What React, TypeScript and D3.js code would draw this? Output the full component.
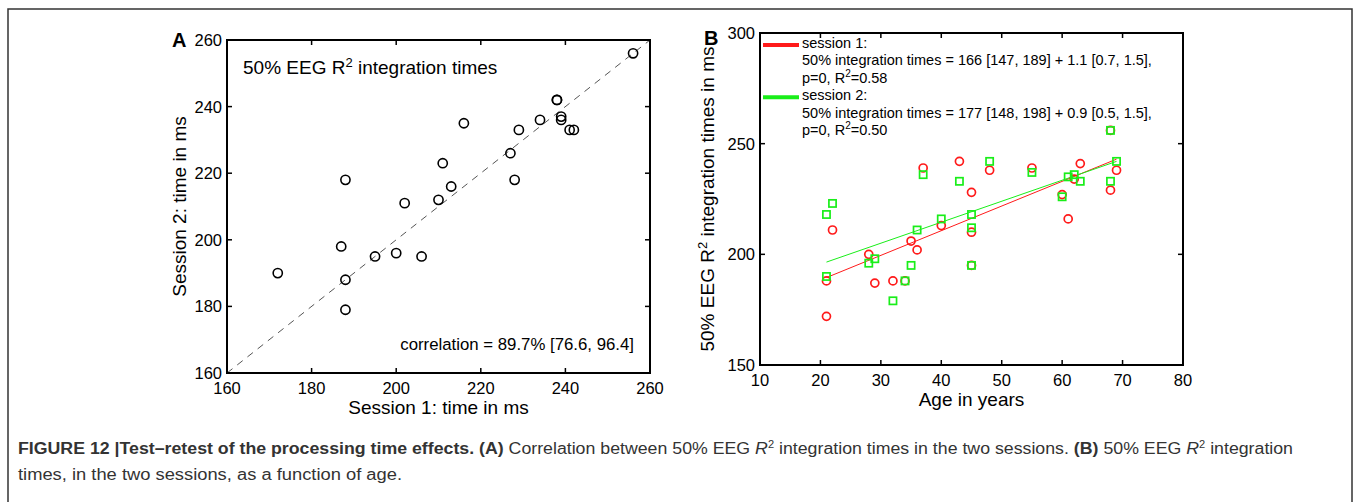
import React from 'react';
import * as d3 from 'd3';

// ---- data (per subject) ----
const ages = [21, 21, 22, 28, 29, 32, 34, 35, 36, 37, 40, 43, 45, 45, 45, 48, 55, 60, 61, 62, 63, 68, 68, 69];
const session1 = [172, 188, 211, 200, 187, 188, 188, 206, 202, 239, 213, 242, 195, 210, 228, 238, 239, 227, 216, 234, 241, 229, 256, 238];
const session2 = [190, 218, 223, 196, 198, 179, 188, 195, 211, 236, 216, 233, 195, 212, 218, 242, 237, 226, 235, 236, 233, 233, 256, 242];

// regression fits (end points)
const fitAges = [21, 69];
const fit1 = [189.5, 243];
const fit2 = [196.5, 242];

const ticksA = [160, 180, 200, 220, 240, 260];
const ticksBx = [10, 20, 30, 40, 50, 60, 70, 80];
const ticksBy = [150, 200, 250, 300];

const legend1 = ['session 1:', '50% integration times = 166 [147, 189] + 1.1 [0.7, 1.5],', 'p=0, R', '=0.58'];
const legend2 = ['session 2:', '50% integration times = 177 [148, 198] + 0.9 [0.5, 1.5],', 'p=0, R', '=0.50'];

const FONT = 'Liberation Sans, Arial, Helvetica, sans-serif';
const RED = '#ff1a1a';
const GREEN = '#19ee19';

function Frame({ x, y, xt, yt }: any) {
  const [x0, x1] = x.range();
  const [y0, y1] = y.range();
  const T = 5;
  return (
    <g>
      {xt.map((t: number) => (
        <g key={'x' + t}>
          <line x1={x(t)} x2={x(t)} y1={y0} y2={y0 - T} stroke="#000" strokeWidth={1.5} />
          <line x1={x(t)} x2={x(t)} y1={y1} y2={y1 + T} stroke="#000" strokeWidth={1.5} />
          <text x={x(t)} y={y0 + 21} textAnchor="middle" fontSize={16.5} fontFamily={FONT}>{t}</text>
        </g>
      ))}
      {yt.map((t: number) => (
        <g key={'y' + t}>
          <line x1={x0} x2={x0 + T} y1={y(t)} y2={y(t)} stroke="#000" strokeWidth={1.5} />
          <line x1={x1} x2={x1 - T} y1={y(t)} y2={y(t)} stroke="#000" strokeWidth={1.5} />
          <text x={x0 - 5} y={y(t) + 6} textAnchor="end" fontSize={16.5} fontFamily={FONT}>{t}</text>
        </g>
      ))}
      <rect x={x0} y={y1} width={x1 - x0} height={y0 - y1} fill="none" stroke="#000" strokeWidth={2} />
    </g>
  );
}

export default function App() {
  // Panel A
  const xA = d3.scaleLinear().domain([160, 260]).range([227, 650]);
  const yA = d3.scaleLinear().domain([160, 260]).range([373, 40]);
  // Panel B
  const xB = d3.scaleLinear().domain([10, 80]).range([760, 1183]);
  const yB = d3.scaleLinear().domain([150, 300]).range([365, 33]);

  const fitLine = d3.line<number>().x((_, i) => xB(fitAges[i])).y((d) => yB(d));

  const legY = 48;
  const legDy = 17.4;

  return (
    <svg width={1354} height={502} style={{ position: 'absolute', left: 0, top: 0, background: '#fff' }}>
      <rect x={0} y={0} width={1354} height={502} fill="#fff" />
      <rect x={8} y={9} width={1344} height={600} fill="none" stroke="#333" strokeWidth={1.5} />

      {/* ---------- Panel A ---------- */}
      <text x={172} y={47} fontSize={20} fontWeight="bold" fontFamily={FONT}>A</text>
      <line x1={xA(160)} y1={yA(160)} x2={xA(260)} y2={yA(260)} stroke="#555" strokeWidth={1} strokeDasharray="7,6" />
      {session1.map((s, i) => (
        <circle key={'a' + i} cx={xA(s)} cy={yA(session2[i])} r={4.6} fill="none" stroke="#000" strokeWidth={1.6} />
      ))}
      <Frame x={xA} y={yA} xt={ticksA} yt={ticksA} />
      <text x={243} y={74} fontSize={19} fontFamily={FONT}>
        50% EEG R<tspan dy={-7} fontSize={13}>2</tspan><tspan dy={7}> integration times</tspan>
      </text>
      <text x={634} y={350} textAnchor="end" fontSize={16.8} fontFamily={FONT}>correlation = 89.7% [76.6, 96.4]</text>
      <text x={(xA.range()[0] + xA.range()[1]) / 2} y={414} textAnchor="middle" fontSize={19} fontFamily={FONT}>Session 1: time in ms</text>
      <text transform={`translate(186,${(yA.range()[0] + yA.range()[1]) / 2}) rotate(-90)`} textAnchor="middle" fontSize={19} fontFamily={FONT}>Session 2: time in ms</text>

      {/* ---------- Panel B ---------- */}
      <text x={704} y={45} fontSize={20} fontWeight="bold" fontFamily={FONT}>B</text>
      <path d={fitLine(fit1) || ''} fill="none" stroke={RED} strokeWidth={1} />
      <path d={fitLine(fit2) || ''} fill="none" stroke={GREEN} strokeWidth={1} />
      {session1.map((s, i) => (
        <circle key={'r' + i} cx={xB(ages[i])} cy={yB(s)} r={4} fill="none" stroke={RED} strokeWidth={1.7} />
      ))}
      {session2.map((s, i) => (
        <rect key={'g' + i} x={xB(ages[i]) - 3.6} y={yB(s) - 3.6} width={7.2} height={7.2} fill="none" stroke={GREEN} strokeWidth={1.7} />
      ))}
      <Frame x={xB} y={yB} xt={ticksBx} yt={ticksBy} />

      {/* legend */}
      <line x1={763} x2={799} y1={legY - 3} y2={legY - 3} stroke={RED} strokeWidth={4} />
      <line x1={763} x2={799} y1={legY + 3 * legDy - 3} y2={legY + 3 * legDy - 3} stroke={GREEN} strokeWidth={4} />
      {[legend1, legend2].map((lg, k) => {
        const base = legY + k * 3 * legDy;
        return (
          <g key={'leg' + k} fontSize={14.5} fontFamily={FONT}>
            <text x={802} y={base}>{lg[0]}</text>
            <text x={802} y={base + legDy}>{lg[1]}</text>
            <text x={802} y={base + 2 * legDy}>
              {lg[2]}<tspan dy={-6} fontSize={10}>2</tspan><tspan dy={6}>{lg[3]}</tspan>
            </text>
          </g>
        );
      })}

      <text x={(xB.range()[0] + xB.range()[1]) / 2} y={406} textAnchor="middle" fontSize={19} fontFamily={FONT}>Age in years</text>
      <text transform={`translate(714,${(yB.range()[0] + yB.range()[1]) / 2}) rotate(-90)`} textAnchor="middle" fontSize={19} fontFamily={FONT}>
        50% EEG R<tspan dy={-7} fontSize={13}>2</tspan><tspan dy={7}> integration times in ms</tspan>
      </text>

      {/* ---------- Caption ---------- */}
      <text x={18} y={454} fontSize={16} fontFamily="Liberation Sans Narrow, Liberation Sans, Arial, sans-serif" fill="#333" textLength={1275} lengthAdjust="spacingAndGlyphs">
        <tspan fontWeight="bold">FIGURE 12 |Test–retest of the processing time effects. (A)</tspan>
        <tspan> Correlation between 50% EEG </tspan>
        <tspan fontStyle="italic">R</tspan>
        <tspan dy={-6} fontSize={10}>2</tspan>
        <tspan dy={6}> integration times in the two sessions. </tspan>
        <tspan fontWeight="bold">(B)</tspan>
        <tspan> 50% EEG </tspan>
        <tspan fontStyle="italic">R</tspan>
        <tspan dy={-6} fontSize={10}>2</tspan>
        <tspan dy={6}> integration</tspan>
      </text>
      <text x={18} y={480} fontSize={16} fontFamily="Liberation Sans Narrow, Liberation Sans, Arial, sans-serif" fill="#333" textLength={384} lengthAdjust="spacingAndGlyphs">
        times, in the two sessions, as a function of age.
      </text>
    </svg>
  );
}
